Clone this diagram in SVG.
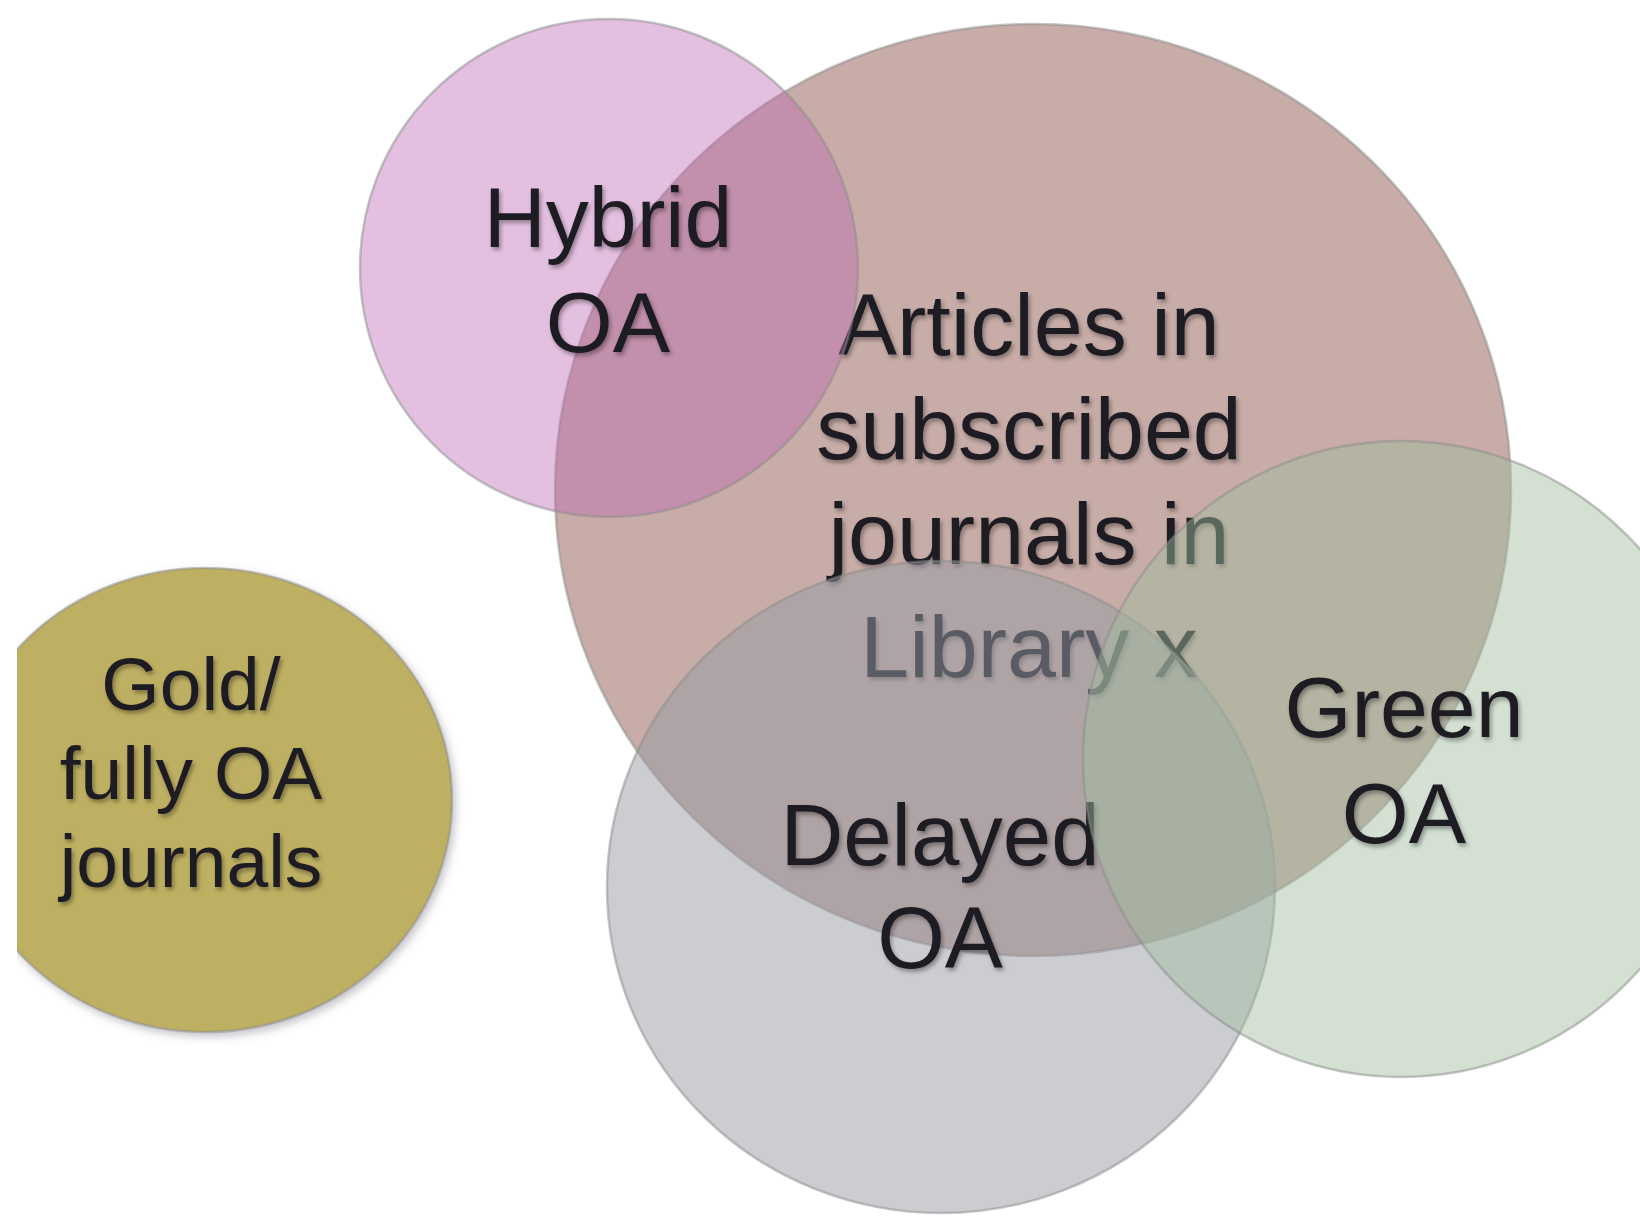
<svg xmlns="http://www.w3.org/2000/svg" width="1640" height="1216" viewBox="0 0 1640 1216">
  <defs>
    <style>
      .lbl { font-family: "Liberation Sans", Arial, sans-serif; fill: #1f1a22; text-anchor: middle; }
      .ring { stroke: #8c8c8c; stroke-opacity: 0.5; stroke-width: 2.5; }
    </style>
    <filter id="txtShadow" x="-10%" y="-20%" width="130%" height="150%">
      <feDropShadow dx="2" dy="3" stdDeviation="2" flood-color="#000" flood-opacity="0.35"/>
    </filter>
    <filter id="circShadow" x="-10%" y="-10%" width="130%" height="130%">
      <feDropShadow dx="3" dy="4" stdDeviation="4" flood-color="#556" flood-opacity="0.35"/>
    </filter>
    <clipPath id="leftClip">
      <rect x="17" y="0" width="1623" height="1216"/>
    </clipPath>
  </defs>
  <rect width="1640" height="1216" fill="#ffffff"/>
  <g id="connectors"/>

  <g id="gold" clip-path="url(#leftClip)">
    <ellipse cx="205" cy="800" rx="247" ry="232" fill="#BEB062" class="ring" filter="url(#circShadow)"/>
    <g filter="url(#txtShadow)">
      <text class="lbl" x="191" y="710" font-size="75">Gold/</text>
      <text class="lbl" x="191" y="799" font-size="75">fully OA</text>
      <text class="lbl" x="191" y="887" font-size="75">journals</text>
    </g>
  </g>

  <g id="subscribed">
    <ellipse cx="1033" cy="490" rx="478" ry="466" fill="#C7ACA7" class="ring"/>
    <g filter="url(#txtShadow)">
      <text class="lbl" x="1029" y="355" font-size="88">Articles in</text>
      <text class="lbl" x="1029" y="459" font-size="88">subscribed</text>
      <text class="lbl" x="1029" y="564" font-size="88">journals in</text>
      <text class="lbl" x="1029" y="677" font-size="88">Library x</text>
    </g>
  </g>

  <g id="hybrid">
    <circle cx="609" cy="268" r="249" fill="rgb(188,105,179)" fill-opacity="0.42" class="ring"/>
    <g filter="url(#txtShadow)">
      <text class="lbl" x="608" y="247" font-size="86">Hybrid</text>
      <text class="lbl" x="608" y="352" font-size="86">OA</text>
    </g>
  </g>

  <g id="delayed">
    <ellipse cx="941" cy="887" rx="334" ry="326" fill="rgb(151,155,163)" fill-opacity="0.5" class="ring"/>
    <g filter="url(#txtShadow)">
      <text class="lbl" x="940" y="865" font-size="87">Delayed</text>
      <text class="lbl" x="940" y="968" font-size="87">OA</text>
    </g>
  </g>

  <g id="green">
    <circle cx="1401" cy="759" r="318" fill="rgb(162,189,160)" fill-opacity="0.47" class="ring"/>
    <g filter="url(#txtShadow)">
      <text class="lbl" x="1404" y="737" font-size="86">Green</text>
      <text class="lbl" x="1404" y="843" font-size="86">OA</text>
    </g>
  </g>
</svg>
